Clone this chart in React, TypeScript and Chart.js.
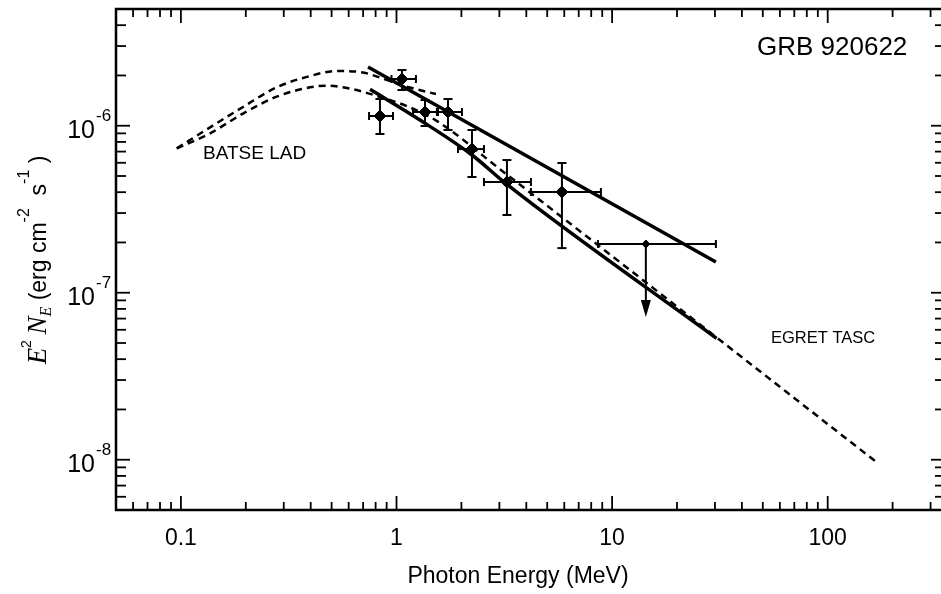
import React, { useEffect, useRef } from "react";
import { Chart, registerables } from "chart.js";

Chart.register(...registerables);

// ---- axis ranges ----
const xRange = [0.05, 350];
const yRange = [5e-9, 5e-6];

// ---- BATSE LAD model curves (dashed) ----
const batseUpperE = [0.0957, 0.1366, 0.195, 0.278, 0.397, 0.528, 0.677, 0.933, 1.155, 1.524];
const batseUpperF = [7.32e-7, 9.78e-7, 1.3e-6, 1.698e-6, 1.984e-6, 2.126e-6, 2.097e-6, 1.852e-6, 1.693e-6, 1.548e-6];
const batseLowerE = [0.0957, 0.1366, 0.195, 0.278, 0.397, 0.475, 0.63, 0.869, 1.115, 1.536, 3.126, 170.7];
const batseLowerF = [7.32e-7, 9.01e-7, 1.187e-6, 1.492e-6, 1.698e-6, 1.736e-6, 1.652e-6, 1.465e-6, 1.312e-6, 1.07e-6, 5.3e-7, 9.55e-9];

// ---- EGRET TASC fits (solid) ----
const egretUpperE = [0.738, 30.3];
const egretUpperF = [2.246e-6, 1.527e-7];
const egretLowerE = [0.754, 1.285, 2.239, 3.253, 30.5];
const egretLowerF = [1.652e-6, 1.082e-6, 6.68e-7, 4.45e-7, 5.33e-8];

// ---- data points with error bars ----
const pointE = [0.838, 1.06, 1.356, 1.733, 2.239, 3.253, 5.852];
const pointF = [1.143e-6, 1.904e-6, 1.208e-6, 1.208e-6, 7.25e-7, 4.6e-7, 4.01e-7];
const pointELow = [0.746, 0.948, 1.193, 1.54, 1.928, 2.545, 4.203];
const pointEHigh = [0.963, 1.231, 1.557, 2.012, 2.545, 4.203, 8.873];
const pointFLow = [8.92e-7, 1.636e-6, 9.96e-7, 9.43e-7, 4.93e-7, 2.92e-7, 1.85e-7];
const pointFHigh = [1.445e-6, 2.155e-6, 1.425e-6, 1.445e-6, 9.43e-7, 6.23e-7, 5.98e-7];

// ---- upper limit ----
const limitE = [14.34];
const limitF = [1.957e-7];
const limitELow = [8.6];
const limitEHigh = [30.3];
const limitArrowTo = [7.15e-8];

// ---- ticks / labels ----
const xTickValues = [0.1, 1, 10, 100];
const xTickLabels = ["0.1", "1", "10", "100"];
const yTickValues = [1e-6, 1e-7, 1e-8];
const yTickBase = "10";
const yTickExponents = ["-6", "-7", "-8"];
const xTitle = "Photon Energy (MeV)";
const plotTitle = "GRB 920622";
const batseLabel = "BATSE LAD";
const egretLabel = "EGRET TASC";

const SANS = '"Liberation Sans", Arial, Helvetica, sans-serif';
const SERIF = '"Liberation Serif", "Times New Roman", serif';

function logTicks(min: number, max: number) {
  const out: { v: number; major: boolean }[] = [];
  for (let e = Math.floor(Math.log10(min)); e <= Math.ceil(Math.log10(max)); e++) {
    for (let k = 1; k < 10; k++) {
      const v = k * Math.pow(10, e);
      if (v >= min * 0.9999 && v <= max * 1.0001) out.push({ v, major: k === 1 });
    }
  }
  return out;
}

const decor = {
  id: "decor",
  afterDatasetsDraw(chart: any) {
    const { ctx, scales } = chart;
    const xs = scales.x;
    const ys = scales.y;
    ctx.save();
    ctx.strokeStyle = "#000";
    ctx.fillStyle = "#000";
    ctx.lineWidth = 2;
    const line = (x1: number, y1: number, x2: number, y2: number) => {
      ctx.beginPath();
      ctx.moveTo(x1, y1);
      ctx.lineTo(x2, y2);
      ctx.stroke();
    };
    pointE.forEach((e, i) => {
      const px = xs.getPixelForValue(e);
      const py = ys.getPixelForValue(pointF[i]);
      const xl = xs.getPixelForValue(pointELow[i]);
      const xh = xs.getPixelForValue(pointEHigh[i]);
      const yl = ys.getPixelForValue(pointFLow[i]);
      const yh = ys.getPixelForValue(pointFHigh[i]);
      line(xl, py, xh, py);
      line(px, yl, px, yh);
      line(xl, py - 4, xl, py + 4);
      line(xh, py - 4, xh, py + 4);
      line(px - 4.5, yl, px + 4.5, yl);
      line(px - 4.5, yh, px + 4.5, yh);
    });
    limitE.forEach((e, i) => {
      const px = xs.getPixelForValue(e);
      const py = ys.getPixelForValue(limitF[i]);
      const xl = xs.getPixelForValue(limitELow[i]);
      const xh = xs.getPixelForValue(limitEHigh[i]);
      const yt = ys.getPixelForValue(limitArrowTo[i]);
      line(xl, py, xh, py);
      line(xl, py - 4, xl, py + 4);
      line(xh, py - 4, xh, py + 4);
      line(px, py, px, yt - 12);
      ctx.beginPath();
      ctx.moveTo(px - 5, yt - 17);
      ctx.lineTo(px + 5, yt - 17);
      ctx.lineTo(px, yt);
      ctx.closePath();
      ctx.fill();
    });
    ctx.restore();
  },
  afterDraw(chart: any) {
    const { ctx, chartArea: a, scales } = chart;
    const xs = scales.x;
    const ys = scales.y;
    ctx.save();
    ctx.strokeStyle = "#000";
    ctx.fillStyle = "#000";
    // frame
    ctx.lineWidth = 2.5;
    ctx.beginPath();
    ctx.rect(a.left, a.top, a.right - a.left, a.bottom - a.top);
    ctx.stroke();
    // ticks
    ctx.lineWidth = 1.8;
    const seg = (x1: number, y1: number, x2: number, y2: number) => {
      ctx.beginPath();
      ctx.moveTo(x1, y1);
      ctx.lineTo(x2, y2);
      ctx.stroke();
    };
    logTicks(xRange[0], xRange[1]).forEach((t) => {
      const px = xs.getPixelForValue(t.v);
      const len = t.major ? 14 : 8;
      seg(px, a.bottom, px, a.bottom - len);
      seg(px, a.top, px, a.top + len);
    });
    logTicks(yRange[0], yRange[1]).forEach((t) => {
      const py = ys.getPixelForValue(t.v);
      const len = t.major ? 14 : 10;
      seg(a.left, py, a.left + len, py);
      seg(a.right, py, a.right - len, py);
    });
    // x tick labels
    ctx.font = `23px ${SANS}`;
    ctx.textAlign = "center";
    ctx.textBaseline = "middle";
    xTickValues.forEach((v, i) => {
      ctx.fillText(xTickLabels[i], xs.getPixelForValue(v), 539);
    });
    // y tick labels
    yTickValues.forEach((v, i) => {
      const py = ys.getPixelForValue(v);
      ctx.font = `25px ${SANS}`;
      ctx.textAlign = "right";
      ctx.textBaseline = "alphabetic";
      ctx.fillText(yTickBase, 95, py + 12);
      ctx.font = `17px ${SANS}`;
      ctx.textAlign = "left";
      ctx.fillText(yTickExponents[i], 96, py - 5);
    });
    // x title
    ctx.font = `23px ${SANS}`;
    ctx.textAlign = "center";
    ctx.textBaseline = "middle";
    ctx.fillText(xTitle, 518, 577);
    // annotations
    ctx.textAlign = "left";
    ctx.font = `26px ${SANS}`;
    ctx.fillText(plotTitle, 757, 48);
    ctx.font = `19px ${SANS}`;
    ctx.fillText(batseLabel, 203, 154);
    ctx.font = `16.5px ${SANS}`;
    ctx.fillText(egretLabel, 771, 338);
    // y title (rotated)
    const parts = [
      { t: "E", f: `italic 27px ${SERIF}`, dy: 0 },
      { t: "2", f: `14px ${SANS}`, dy: -15 },
      { t: " ", f: `20px ${SANS}`, dy: 0 },
      { t: "N", f: `italic 27px ${SERIF}`, dy: 0 },
      { t: "E", f: `italic 16px ${SERIF}`, dy: 5 },
      { t: " (erg cm", f: `23px ${SANS}`, dy: 0 },
      { t: "-2", f: `16px ${SANS}`, dy: -17 },
      { t: "  s", f: `23px ${SANS}`, dy: 0 },
      { t: "-1", f: `16px ${SANS}`, dy: -17 },
      { t: " )", f: `23px ${SANS}`, dy: 0 },
    ];
    let total = 0;
    const widths = parts.map((p) => {
      ctx.font = p.f;
      const w = ctx.measureText(p.t).width;
      total += w;
      return w;
    });
    ctx.translate(46, 260);
    ctx.rotate(-Math.PI / 2);
    ctx.textAlign = "left";
    ctx.textBaseline = "alphabetic";
    let cx = -total / 2;
    parts.forEach((p, i) => {
      ctx.font = p.f;
      ctx.fillText(p.t, cx, p.dy);
      cx += widths[i];
    });
    ctx.restore();
  },
};

const xy = (es: number[], fs: number[]) => es.map((e, i) => ({ x: e, y: fs[i] }));

export default function App() {
  const ref = useRef<HTMLCanvasElement | null>(null);
  useEffect(() => {
    document.body.style.margin = "0";
    const canvas = ref.current;
    if (!canvas) return;
    const dashed = { borderColor: "#000", borderWidth: 2.5, borderDash: [7, 5], pointRadius: 0, showLine: true, fill: false, cubicInterpolationMode: "monotone" as const };
    const solid = { borderColor: "#000", borderWidth: 3.5, pointRadius: 0, showLine: true, fill: false, cubicInterpolationMode: "monotone" as const };
    const chart = new Chart(canvas, {
      type: "scatter",
      data: {
        datasets: [
          { ...dashed, data: xy(batseUpperE, batseUpperF) },
          { ...dashed, data: xy(batseLowerE, batseLowerF) },
          { ...solid, data: xy(egretUpperE, egretUpperF) },
          { ...solid, data: xy(egretLowerE, egretLowerF) },
          { data: xy(pointE, pointF), pointStyle: "rectRot", pointRadius: 6, backgroundColor: "#000", borderColor: "#000", showLine: false },
          { data: xy(limitE, limitF), pointStyle: "rectRot", pointRadius: 4, backgroundColor: "#000", borderColor: "#000", showLine: false },
        ] as any,
      },
      options: {
        responsive: false,
        animation: false,
        events: [],
        devicePixelRatio: 1,
        layout: { padding: { left: 116, top: 9, right: 15, bottom: 84 } },
        plugins: { legend: { display: false }, tooltip: { enabled: false } },
        scales: {
          x: { type: "logarithmic", min: xRange[0], max: xRange[1], display: false },
          y: { type: "logarithmic", min: yRange[0], max: yRange[1], display: false },
        },
      },
      plugins: [decor],
    });
    return () => chart.destroy();
  }, []);
  return (
    <div style={{ width: 941, height: 594, overflow: "hidden", background: "#fff" }}>
      <canvas ref={ref} width={960} height={594} style={{ display: "block" }} />
    </div>
  );
}
